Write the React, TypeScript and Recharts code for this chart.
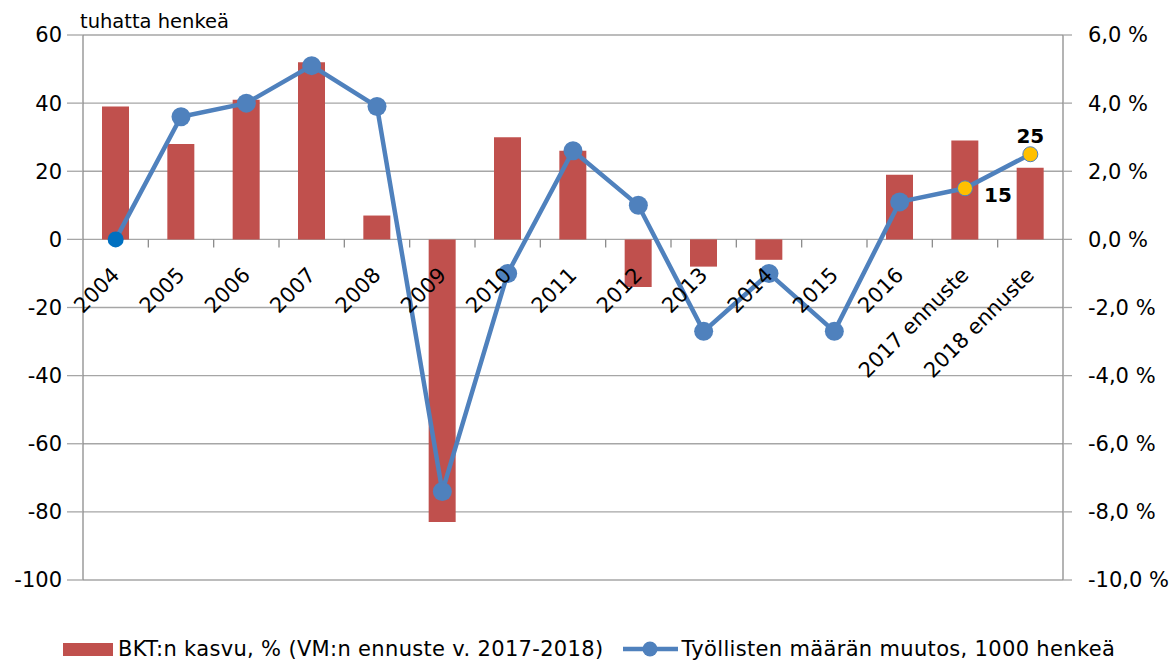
import React from 'react';
import {
  ComposedChart,
  Bar,
  Line,
  XAxis,
  YAxis,
  CartesianGrid,
  Legend,
  LabelList,
} from 'recharts';

// ---- data ----
const YEARS = [
  '2004', '2005', '2006', '2007', '2008', '2009', '2010', '2011',
  '2012', '2013', '2014', '2015', '2016', '2017 ennuste', '2018 ennuste',
];
// BKT:n kasvu, % (right axis)
const GDP_GROWTH = [3.9, 2.8, 4.1, 5.2, 0.7, -8.3, 3.0, 2.6, -1.4, -0.8, -0.6, 0, 1.9, 2.9, 2.1];
// Työllisten määrän muutos, 1000 henkeä (left axis)
const EMPLOYMENT_CHANGE = [0, 36, 40, 51, 39, -74, -10, 26, 10, -27, -10, -27, 11, 15, 25];
// forecast points get a yellow marker and a value label
const FORECAST = [false, false, false, false, false, false, false, false, false, false, false, false, false, true, true];
const LABEL_PLACE = ['', '', '', '', '', '', '', '', '', '', '', '', '', 'right', 'top'];

const LEFT_TICKS = [-100, -80, -60, -40, -20, 0, 20, 40, 60];
const RIGHT_TICKS = [-10, -8, -6, -4, -2, 0, 2, 4, 6];
const SERIES_NAMES = ['BKT:n kasvu, % (VM:n ennuste v. 2017-2018)', 'Työllisten määrän muutos, 1000 henkeä'];
const Y_TITLE = 'tuhatta henkeä';

const data = YEARS.map((year, i) => ({
  year,
  gdp: GDP_GROWTH[i],
  emp: EMPLOYMENT_CHANGE[i],
  forecast: FORECAST[i],
  place: LABEL_PLACE[i],
}));

// ---- layout / style ----
const W = 1173;
const H = 662;
const LEFT_W = 83;
const RIGHT_W = 110;
const TOP = 35;
const XAXIS_H = 1;
const BOTTOM = 81;
const PLOT_H = H - TOP - BOTTOM - XAXIS_H;
const PLOT_W = W - LEFT_W - RIGHT_W;
const BAND = PLOT_W / YEARS.length;
const LEFT_MIN = -100;
const LEFT_MAX = 60;

const FONT = "'DejaVu Sans', sans-serif";
const AXIS_GREY = '#8c8c8c';
const GRID_GREY = '#a6a6a6';
const BAR_RED = '#C0504D';
const LINE_BLUE = '#4F81BD';

const XTick = (props: any) => {
  const { x, y, payload, index } = props;
  const zeroY = y - (PLOT_H * (0 - LEFT_MIN)) / (LEFT_MAX - LEFT_MIN);
  const ax = x + 5;
  const ay = zeroY + 37;
  return (
    <g>
      {index < YEARS.length - 1 && (
        <line
          x1={x + BAND / 2}
          x2={x + BAND / 2}
          y1={zeroY}
          y2={zeroY + 8}
          stroke={AXIS_GREY}
          strokeWidth={1.3}
        />
      )}
      <text
        x={ax}
        y={ay}
        transform={`rotate(-45 ${ax} ${ay})`}
        textAnchor="end"
        fontSize={21}
        fontFamily={FONT}
        fill="#000"
      >
        {payload.value}
      </text>
    </g>
  );
};

const Dot = (props: any) => {
  const { cx, cy, index, payload } = props;
  if (cx == null || cy == null) return null;
  if (index === 0) {
    return <circle key={`d${index}`} cx={cx} cy={cy} r={8} fill="#0070C0" />;
  }
  if (payload.forecast) {
    return (
      <circle key={`d${index}`} cx={cx} cy={cy} r={7.5} fill="#FFC000" stroke={LINE_BLUE} strokeWidth={1} />
    );
  }
  return <circle key={`d${index}`} cx={cx} cy={cy} r={9.5} fill={LINE_BLUE} />;
};

const PointLabel = (props: any) => {
  const { x, y, value, index } = props;
  const place = LABEL_PLACE[index];
  if (!place) return null;
  const tx = place === 'right' ? x + 19 : x;
  const ty = place === 'right' ? y + 14 : y - 11;
  return (
    <text
      x={tx}
      y={ty}
      textAnchor={place === 'right' ? 'start' : 'middle'}
      fontSize={20}
      fontWeight="bold"
      fontFamily={FONT}
      fill="#000"
    >
      {value}
    </text>
  );
};

const LegendContent = () => (
  <div
    style={{
      display: 'flex',
      alignItems: 'center',
      height: 26,
      paddingLeft: 63,
      fontFamily: FONT,
      fontSize: 21,
      letterSpacing: 0.33,
      color: '#000',
      whiteSpace: 'nowrap',
    }}
  >
    <span style={{ display: 'inline-block', width: 50, height: 13, background: BAR_RED, marginRight: 5 }} />
    <span style={{ marginRight: 20 }}>{SERIES_NAMES[0]}</span>
    <svg width={55} height={20} style={{ marginRight: 3 }}>
      <line x1={0} x2={55} y1={10} y2={10} stroke={LINE_BLUE} strokeWidth={4.5} />
      <circle cx={27} cy={10} r={7.5} fill={LINE_BLUE} />
    </svg>
    <span>{SERIES_NAMES[1]}</span>
  </div>
);

export default function App() {
  return (
    <div style={{ position: 'absolute', left: 0, top: 0, width: W, height: H, background: '#fff' }}>
      <ComposedChart
        width={W}
        height={H}
        data={data}
        margin={{ top: TOP, right: 0, bottom: BOTTOM, left: 0 }}
        style={{ fontFamily: FONT }}
      >
        <CartesianGrid yAxisId="left" vertical={false} stroke={GRID_GREY} strokeWidth={1.3} />
        <XAxis
          dataKey="year"
          height={XAXIS_H}
          axisLine={false}
          tickLine={false}
          tickSize={0}
          tickMargin={0}
          interval={0}
          tick={<XTick />}
        />
        <YAxis
          yAxisId="left"
          orientation="left"
          width={LEFT_W}
          domain={[LEFT_MIN, LEFT_MAX]}
          ticks={LEFT_TICKS}
          interval={0}
          tickSize={16}
          tickMargin={5}
          axisLine={{ stroke: AXIS_GREY, strokeWidth: 1.3 }}
          tickLine={{ stroke: GRID_GREY, strokeWidth: 1.3 }}
          tick={{ fontSize: 21, fill: '#000', fontFamily: FONT }}
          label={{
            content: () => (
              <text x={80} y={28} fontSize={19.5} fontFamily={FONT} fill="#000">
                {Y_TITLE}
              </text>
            ),
          }}
        />
        <YAxis
          yAxisId="right"
          orientation="right"
          width={RIGHT_W}
          domain={[-10, 6]}
          ticks={RIGHT_TICKS}
          interval={0}
          tickSize={9}
          tickMargin={16}
          axisLine={{ stroke: AXIS_GREY, strokeWidth: 1.3 }}
          tickLine={{ stroke: GRID_GREY, strokeWidth: 1.3 }}
          tick={{ fontSize: 21, fill: '#000', fontFamily: FONT, textAnchor: 'start' }}
          tickFormatter={(v: number) => `${v.toFixed(1).replace('.', ',')} %`}
        />
        <Bar yAxisId="right" dataKey="gdp" fill={BAR_RED} barSize={27} isAnimationActive={false} />
        <Line
          yAxisId="left"
          dataKey="emp"
          stroke={LINE_BLUE}
          strokeWidth={4.5}
          dot={<Dot />}
          activeDot={false}
          isAnimationActive={false}
        >
          <LabelList dataKey="emp" content={<PointLabel />} />
        </Line>
        <Legend
          layout="horizontal"
          align="center"
          verticalAlign="middle"
          wrapperStyle={{ top: 636, left: 0, bottom: 'auto', width: W }}
          content={<LegendContent />}
        />
      </ComposedChart>
    </div>
  );
}
